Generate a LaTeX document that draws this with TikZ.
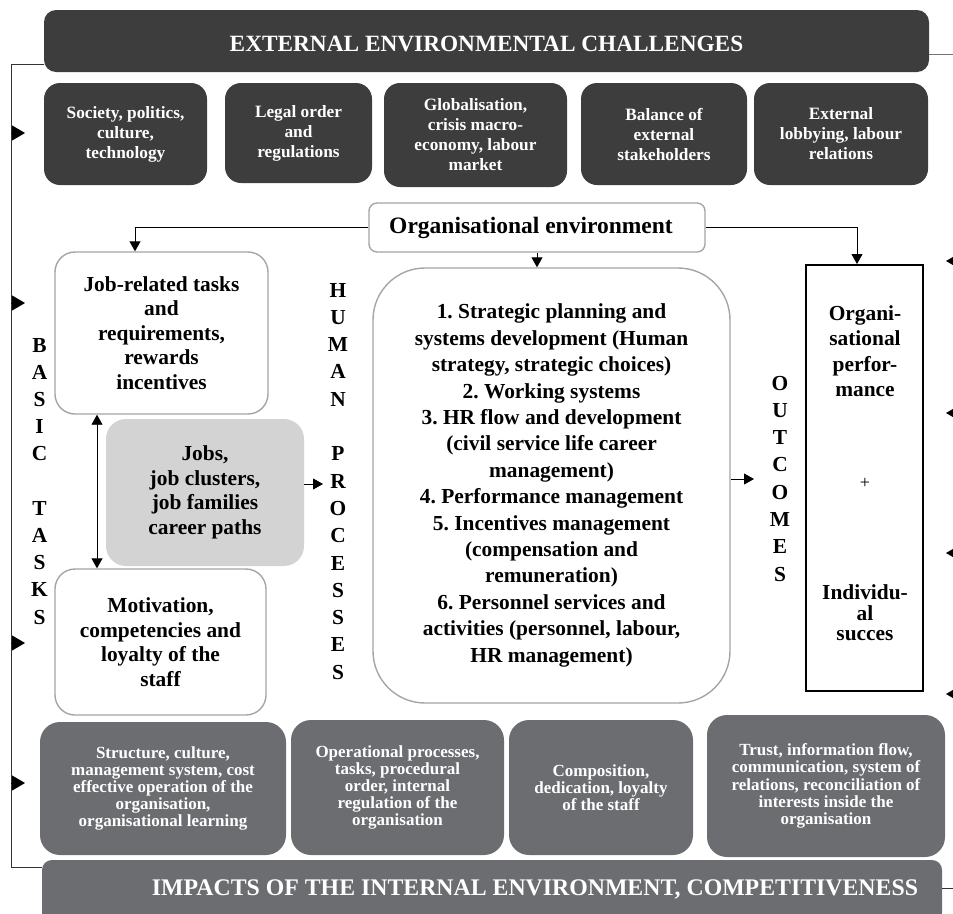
\documentclass[tikz,border=0pt]{standalone}
\usepackage{fontspec}
\setmainfont{Liberation Serif}
\usetikzlibrary{arrows.meta}
\definecolor{topdark}{RGB}{61,61,61}
\definecolor{botgray}{RGB}{108,109,113}
\definecolor{jobgray}{RGB}{211,211,212}
\definecolor{edgegray}{RGB}{165,165,165}
\newcommand\myTitleFont{\fontsize{23.3}{26}\selectfont\bfseries}
\newcommand\myTopFont{\fontsize{17.3}{20}\selectfont\bfseries}
\newcommand\myBotFont{\fontsize{17}{17.2}\selectfont\bfseries}
\newcommand\myBodyFont{\fontsize{21.4}{24.5}\selectfont\bfseries}
\begin{document}
\frenchspacing
\begin{tikzpicture}[x=1pt,y=-1pt,
 topbox/.style={fill=topdark,rounded corners=16pt,inner sep=0pt,text=white,align=center,font=\myTopFont},
 botbox/.style={fill=botgray,rounded corners=20pt,inner sep=0pt,text=white,align=center,font=\myBotFont},
 whitebox/.style={draw=edgegray,line width=1.4pt,fill=white,rounded corners=20pt,inner sep=0pt,align=center,font=\myBodyFont},
 vletter/.style={inner sep=0pt,font=\myBodyFont,text height=14pt,text depth=0pt},
 conn/.style={line width=0.9pt,-{Triangle[length=10pt,width=11pt]}},
 sideline/.style={line width=1pt,draw=black!80},
 lefttip/.style={line width=1pt,-{Triangle[length=13pt,width=15pt]}},
 righttip/.style={line width=1pt,-{Triangle[length=8pt,width=9pt]}},
 ]
\useasboundingbox (0,0) rectangle (953,913);

% top bar and row
\node[topbox,rounded corners=12pt,minimum width=885pt,minimum height=62pt] (ext) at (486.5,41) {};
\node[inner sep=0pt,text=white,font=\myTitleFont] (extt) at (486.5,44) {EXTERNAL ENVIRONMENTAL CHALLENGES};
\node[topbox,minimum width=163pt,minimum height=102pt] (s1) at (125.5,134) {Society, politics,\\culture,\\technology};
\node[topbox,minimum width=147pt,minimum height=100pt] (s2) at (298.5,133) {Legal order\\and\\regulations};
\node[topbox,minimum width=183pt,minimum height=104pt] (s3) at (475.5,135) {Globalisation,\\crisis macro-\\economy, labour\\market};
\node[topbox,minimum width=166pt,minimum height=102pt] (s4) at (664,134) {Balance of\\external\\stakeholders};
\node[topbox,minimum width=174pt,minimum height=102pt] (s5) at (841,134) {External\\lobbying, labour\\relations};

% organisational environment
\node[draw=edgegray,line width=1.4pt,fill=white,rounded corners=8pt,minimum width=336pt,minimum height=49pt] (org) at (537,227.5) {};
\node[inner sep=0pt,font=\fontsize{23.5}{26}\selectfont\bfseries] (orgt) at (531,227.5) {Organisational environment};

% left column
\node[whitebox,minimum width=213pt,minimum height=162pt] (jobrel) at (161.5,333) {Job-related tasks\\and\\requirements,\\rewards\\incentives};
\node[fill=jobgray,rounded corners=20pt,inner sep=0pt,align=center,font=\myBodyFont,minimum width=198pt,minimum height=147pt] (jobs) at (205,492.5) {Jobs,\\job clusters,\\job families\\career paths};
\node[whitebox,minimum width=211pt,minimum height=146pt] (motiv) at (160.5,642) {Motivation,\\competencies and\\loyalty of the\\staff};

% main box
\node[whitebox,rounded corners=52pt,minimum width=357pt,minimum height=435pt,font=\fontsize{21.4}{26.4}\selectfont\bfseries] (main) at (551.5,485.5) {1. Strategic planning and\\systems development (Human\\strategy, strategic choices)\\2. Working systems\\3. HR flow and development\\(civil service life career\\management)\\4. Performance management\\5. Incentives management\\(compensation and\\remuneration)\\6. Personnel services and\\activities (personnel, labour,\\HR management)};

% outcomes box
\node[draw=black,line width=2pt,minimum width=117pt,minimum height=426pt] (out) at (864.5,478) {};
\node[inner sep=0pt,align=center,font=\fontsize{21.4}{25.5}\selectfont\bfseries] (outtop) at (865,351) {Organi-\\sational\\perfor-\\mance};
\node[inner sep=0pt,font=\fontsize{18}{20}\selectfont\mdseries] (plus) at (865,483) {+};
\node[inner sep=0pt,align=center,font=\fontsize{21.4}{20.5}\selectfont\bfseries] (outbot) at (865,613) {Individu-\\al\\succes};

% vertical words
\foreach \l [count=\i from 0] in {B,A,S,I,C} \node[vletter] (ba\i) at (39.5,345+27.2*\i) {\l};
\foreach \l [count=\i from 6] in {T,A,S,K,S} \node[vletter] (ta\i) at (39.5,345+27.2*\i) {\l};
\foreach \l [count=\i from 0] in {H,U,M,A,N} \node[vletter] (hu\i) at (338,290+27.3*\i) {\l};
\foreach \l [count=\i from 6] in {P,R,O,C,E,S,S,E,S} \node[vletter] (pr\i) at (338,290+27.3*\i) {\l};
\foreach \l [count=\i from 0] in {O,U,T,C,O,M,E,S} \node[vletter] (oc\i) at (780,383+27.3*\i) {\l};

% bottom row
\node[botbox,minimum width=246pt,minimum height=133pt] (b1) at (163,788.5) {Structure, culture,\\management system, cost\\effective operation of the\\organisation,\\organisational learning};
\node[botbox,minimum width=213pt,minimum height=135pt] (b2) at (397.5,787.5) {Operational processes,\\tasks, procedural\\order, internal\\regulation of the\\organisation};
\node[botbox,minimum width=184pt,minimum height=135pt] (b3) at (601,787.5) {Composition,\\dedication, loyalty\\of the staff};
\node[botbox,minimum width=238pt,minimum height=142pt] (b4) at (826,786) {Trust, information flow,\\communication, system of\\relations, reconciliation of\\interests inside the\\organisation};
\node[fill=botgray,rounded corners=10pt,inner sep=0pt,minimum width=900pt,minimum height=65pt] (bot) at (492,892.5) {};
\node[inner sep=0pt,text=white,font=\fontsize{23.8}{26}\selectfont\bfseries] (bott) at (535,889) {IMPACTS OF THE INTERNAL ENVIRONMENT, COMPETITIVENESS};

% connectors
\draw[conn] (org.west) -| ([xshift=-26.5pt]jobrel.north);
\draw[conn] (org.east) -| ([xshift=-7.5pt]out.north);
\draw[conn] (org.south) -- (org.south |- main.north);
\coordinate (dbl) at (97,0);
\draw[line width=0.9pt,{Triangle[length=10pt,width=11pt]}-{Triangle[length=10pt,width=11pt]}] (jobrel.south -| dbl) -- (motiv.north -| dbl);
\coordinate (jobsend) at (323,484);
\draw[conn] (jobs.east |- jobsend) -- (jobsend);
\coordinate (mainend) at (754,479);
\draw[conn] (main.east |- mainend) -- (mainend);

% left frame line
\coordinate (lt) at (11,64);
\coordinate (lb) at (11,867);
\draw[sideline] (ext.west |- lt) -- (lt) -- (lb) -- (bot.west |- lb);
\foreach \y [count=\i] in {133,303,643,783} {
  \coordinate (la\i) at (25,\y);
  \draw[lefttip] (la\i -| lt) -- (la\i);
}
% right side stubs
\coordinate (trc) at (953,54);
\draw[line width=1pt,draw=black!55] (ext.east |- trc) -- (trc);
\coordinate (brc) at (953,888);
\draw[line width=1pt,draw=black!80] (bot.east |- brc) -- (brc);
\foreach \y [count=\i] in {261,413,553,694} {
  \coordinate (rs\i) at (956,\y);
  \coordinate (ra\i) at (946,\y);
  \draw[righttip] (rs\i) -- (ra\i);
}
\end{tikzpicture}
\end{document}
